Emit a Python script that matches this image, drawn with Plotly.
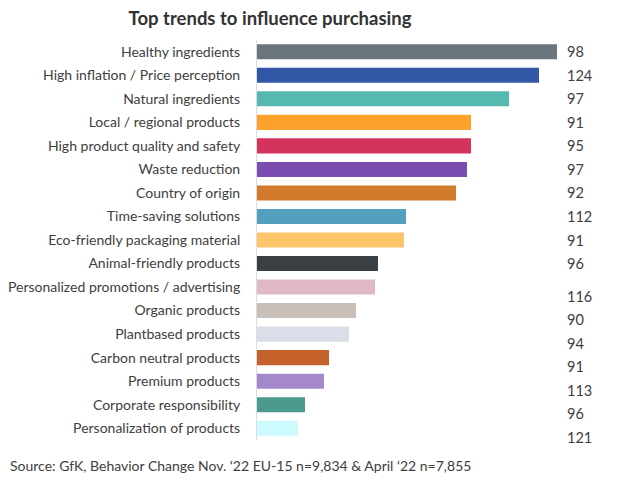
import plotly.graph_objects as go

# Data
trends = [
    'Healthy ingredients',
    'High inflation / Price perception',
    'Natural ingredients',
    'Local / regional products',
    'High product quality and safety',
    'Waste reduction',
    'Country of origin',
    'Time-saving solutions',
    'Eco-friendly packaging material',
    'Animal-friendly products',
    'Personalized promotions / advertising',
    'Organic products',
    'Plantbased products',
    'Carbon neutral products',
    'Premium products',
    'Corporate responsibility',
    'Personalization of products',
]
share = [30.0, 28.2, 25.2, 21.4, 21.4, 21.0, 19.9, 14.9, 14.7,
         12.1, 11.8, 9.9, 9.2, 7.2, 6.7, 4.8, 4.1]
index_vals = [98, 124, 97, 91, 95, 97, 92, 112, 91, 96,
              116, 90, 94, 91, 113, 96, 121]
bar_colors = [
    '#6b767c', '#3257a7', '#55b9b1', '#fda32d', '#d3335d', '#7c4db0',
    '#d17a2c', '#52a0be', '#fdc46a', '#3a3f44', '#dfbac4', '#c8bfb9',
    '#dadee9', '#c5612a', '#a588c9', '#4a9a8f', '#ccfafd',
]

FONT = 'Lato'
# the page body has an 8px margin, so the figure is a bit smaller than the window
W, H = 613, 476
L, R, T, B = 249, 64, 32, 44
PW = W - L - R

fig = go.Figure(go.Bar(
    x=share,
    y=trends,
    orientation='h',
    marker=dict(color=bar_colors, line=dict(width=0)),
    width=0.64,
    hoverinfo='skip',
))

# index numbers on the right (lower group sits a little lower in the original)
annots = []
for i, (t, v) in enumerate(zip(trends, index_vals)):
    annots.append(dict(
        x=1, xref='paper', y=t, yref='y',
        text=str(v), showarrow=False,
        xanchor='left', xshift=8,
        yshift=0 if i < 10 else -9,
        font=dict(family=FONT, size=14.5, color='#404040'),
    ))

annots.append(dict(
    x=-L / PW, xref='paper', y=-0.0625, yref='paper',
    text="Source: GfK, Behavior Change Nov. \u201822 EU-15 n=9,834 & April \u201822 n=7,855",
    showarrow=False, xanchor='left', yanchor='middle',
    font=dict(family=FONT, size=14, color='#404040'),
))

fig.update_layout(
    width=W, height=H,
    margin=dict(l=L, r=R, t=T, b=B, autoexpand=False),
    paper_bgcolor='white', plot_bgcolor='white',
    showlegend=False,
    title=dict(
        text='<b>Top trends to influence purchasing</b>',
        x=262 / W, xanchor='center',
        y=1 - 11 / H, yanchor='middle',
        font=dict(family=FONT, size=18.5, color='#333333'),
    ),
    xaxis=dict(
        range=[0, 30], visible=False, fixedrange=True,
    ),
    yaxis=dict(
        autorange='reversed', automargin=False,
        showline=True, linecolor='#d9dde3', linewidth=1,
        showgrid=False, zeroline=False, ticks='',
        ticklabelstandoff=13,
        tickfont=dict(family=FONT, size=14, color='#404040'),
    ),
    annotations=annots,
)

fig.write_html("out.html")
